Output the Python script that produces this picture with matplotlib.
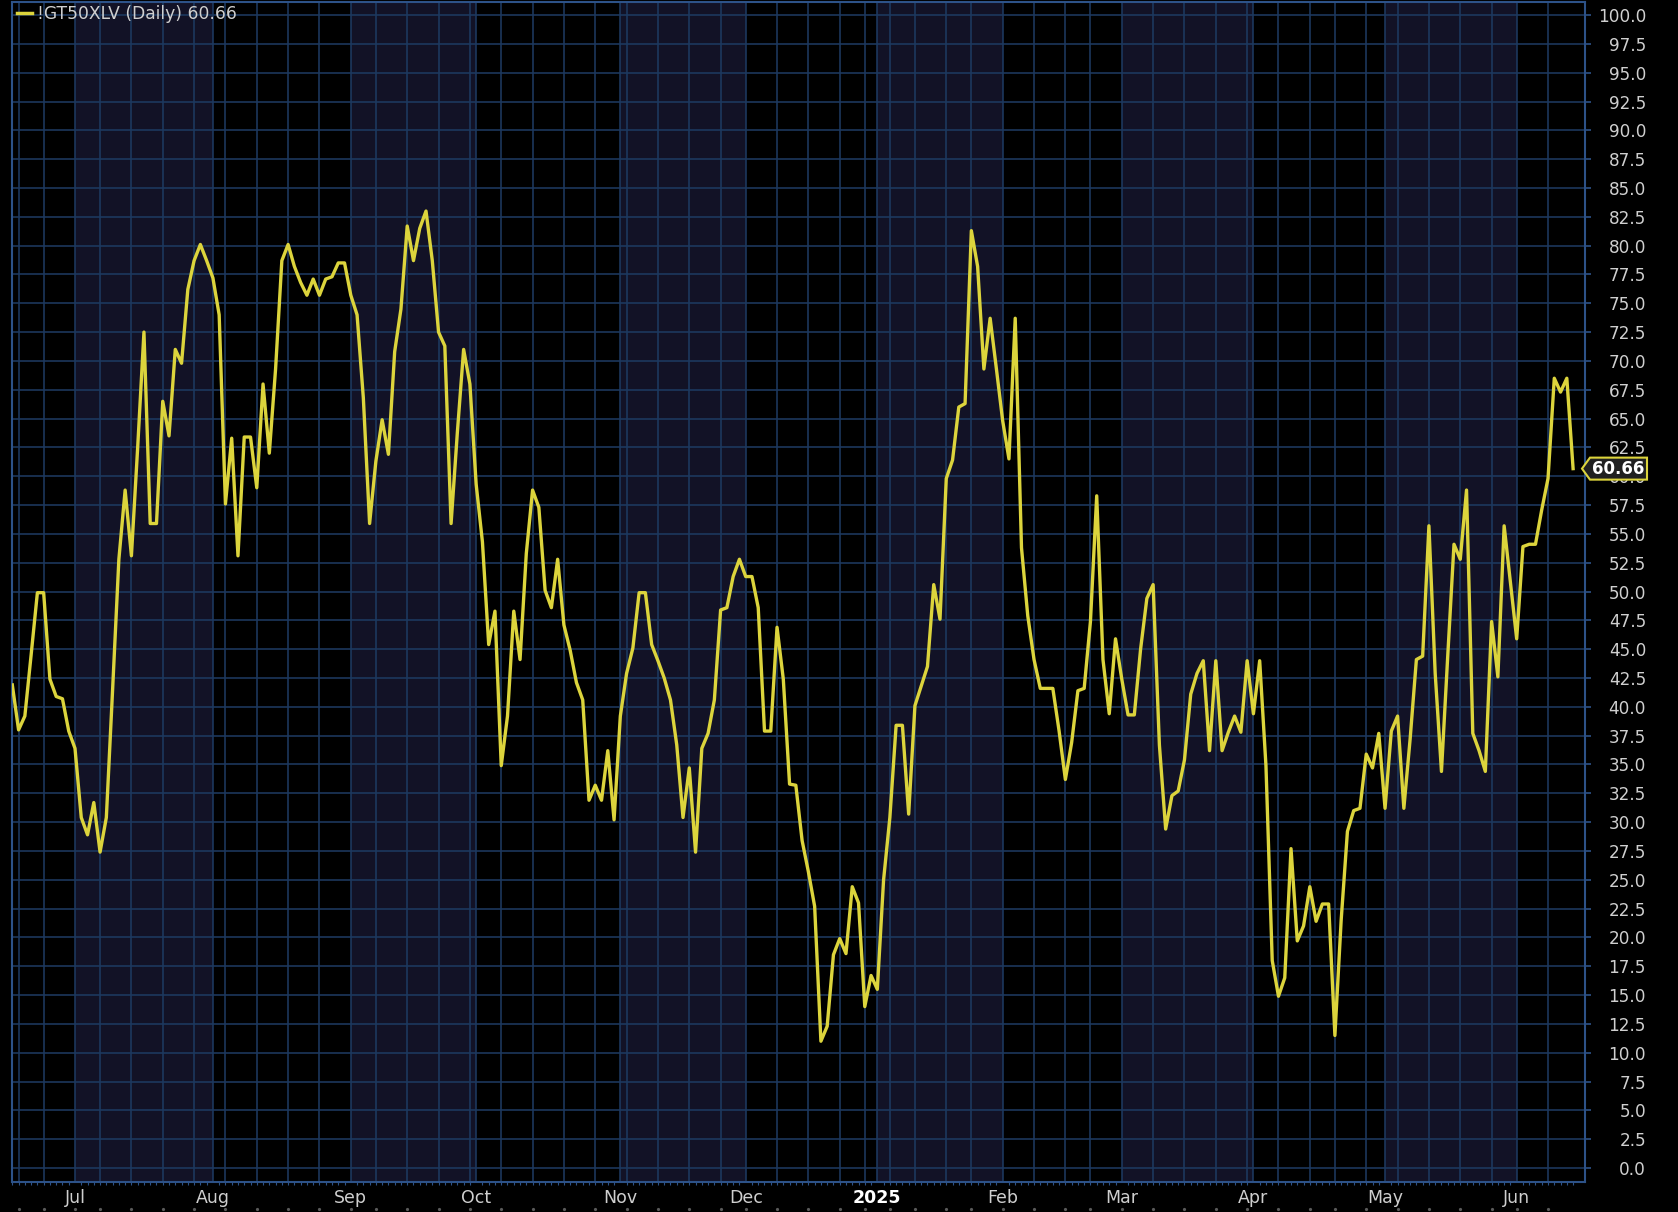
import numpy as np
import pandas as pd
import matplotlib
matplotlib.use("Agg")
import matplotlib.pyplot as plt
from matplotlib.transforms import blended_transform_factory
from matplotlib.patches import Polygon
from matplotlib.lines import Line2D

# ---------------- data (daily values, one list per month) ----------------
jun24 = [41.9, 38.0, 39.2, 44.5, 49.9, 49.9, 42.4, 40.9, 40.7, 37.9]
jul24 = [36.4, 30.4, 28.9, 31.7, 27.4, 30.4, 41.5, 52.8, 58.8, 53.1, 62.5,
         72.5, 55.9, 55.9, 66.5, 63.5, 71.0, 69.8, 76.2, 78.7, 80.1, 78.7]
aug24 = [77.2, 74.0, 57.6, 63.3, 53.1, 63.4, 63.4, 59.0, 68.0, 62.0, 69.3,
         78.7, 80.1, 78.2, 76.8, 75.7, 77.1, 75.7, 77.1, 77.3, 78.5, 78.5]
sep24 = [75.7, 74.0, 66.8, 55.9, 61.3, 64.9, 61.9, 70.8, 74.5, 81.7, 78.7,
         81.5, 83.0, 78.7, 72.5, 71.3, 55.9, 63.8, 71.0, 68.0]
oct24 = [59.3, 54.3, 45.4, 48.3, 34.9, 39.2, 48.3, 44.1, 53.3, 58.8, 57.3,
         50.1, 48.6, 52.8, 47.1, 44.9, 42.1, 40.6, 31.9, 33.2, 31.9, 36.2, 30.2]
nov24 = [39.2, 42.9, 45.1, 49.9, 49.9, 45.4, 44.0, 42.5, 40.6, 36.7, 30.4,
         34.7, 27.4, 36.4, 37.7, 40.6, 48.4, 48.6, 51.3, 52.8]
dec24 = [51.3, 51.3, 48.6, 37.9, 37.9, 46.9, 42.4, 33.3, 33.2, 28.4, 25.7,
         22.7, 11.0, 12.3, 18.5, 19.9, 18.6, 24.4, 23.0, 14.0, 16.7]
jan25 = [15.5, 25.0, 30.4, 38.4, 38.4, 30.7, 40.1, 41.8, 43.5, 50.6, 47.6,
         59.8, 61.4, 66.0, 66.3, 81.3, 78.2, 69.3, 73.7, 69.3]
feb25 = [64.8, 61.5, 73.7, 53.8, 47.9, 44.1, 41.6, 41.6, 41.6, 37.9, 33.7,
         36.9, 41.4, 41.6, 47.4, 58.3, 44.1, 39.4, 45.9]
mar25 = [42.4, 39.3, 39.3, 45.0, 49.4, 50.6, 36.7, 29.4, 32.3, 32.7, 35.4,
         41.1, 42.9, 44.0, 36.2, 44.0, 36.2, 37.8, 39.2, 37.8, 44.0]
apr25 = [39.4, 44.0, 34.9, 18.0, 14.9, 16.5, 27.7, 19.7, 21.0, 24.4, 21.4,
         22.9, 22.9, 11.5, 21.5, 29.2, 31.0, 31.2, 35.9, 34.7, 37.7]
may25 = [31.2, 37.9, 39.2, 31.2, 37.2, 44.1, 44.4, 55.7, 42.9, 34.4, 44.4,
         54.1, 52.8, 58.8, 37.7, 36.2, 34.4, 47.4, 42.6, 55.7, 50.8]
jun25 = [45.9, 53.9, 54.1, 54.1, 57.1, 59.8, 68.5, 67.3, 68.5, 60.66]

values = (jun24 + jul24 + aug24 + sep24 + oct24 + nov24 + dec24 + jan25 +
          feb25 + mar25 + apr25 + may25 + jun25)

holidays = ["2024-06-19", "2024-07-04", "2024-09-02", "2024-11-28",
            "2024-12-25", "2025-01-01", "2025-01-09", "2025-01-20",
            "2025-02-17", "2025-04-18", "2025-05-26"]
start_date, end_date = "2024-06-14", "2025-06-13"
series_label = "!GT50XLV (Daily) 60.66"
last_label = "60.66"
yticks = np.arange(0, 100.01, 2.5)

# ---------------- styling ----------------
LINE = "#dcd43c"
GRID = "#1d3960"
SHADE = "#121226"
SPINE = "#2d5288"
TXT = "#cfcfcf"

dates = pd.bdate_range(start_date, end_date, freq="C", holidays=holidays)
n = min(len(dates), len(values))
dates = dates[:n]
vals = np.array(values[:n])
x = np.arange(n)

fig = plt.figure(figsize=(16.78, 12.12), dpi=100, facecolor="black")
W, H = 1678, 1212
L, R, T, B = 12, 1585, 2, 1182
ax = fig.add_axes([L / W, 1 - B / H, (R - L) / W, (B - T) / H])
ax.set_facecolor("black")
ax.set_xlim(-0.05, 250.9)
ax.set_ylim(-1.21, 101.13)

month_starts = [i for i in range(1, n) if dates[i].month != dates[i - 1].month]
week_starts = [i for i in range(1, n)
               if dates[i].weekday() <= dates[i - 1].weekday()
               or (dates[i] - dates[i - 1]).days >= 7]

# alternating month shading
bounds = month_starts + [ax.get_xlim()[1]]
for k, ms in enumerate(month_starts):
    if dates[ms].month in (7, 9, 11, 1, 3, 5):
        ax.axvspan(ms, bounds[k + 1], color=SHADE, lw=0, zorder=0.5)

# grid
for yv in yticks:
    ax.axhline(yv, color=GRID, lw=1.15, zorder=1)
for ws in sorted(set(week_starts) | set(month_starts)):
    ax.axvline(ws, color=GRID, lw=1.15, zorder=1)

ax.plot(x, vals, color=LINE, lw=2.4, zorder=3, solid_joinstyle="round")

for s in ax.spines.values():
    s.set_color(SPINE)
    s.set_linewidth(1.5)

# y axis on the right
ax.yaxis.tick_right()
ax.set_yticks(yticks)
ax.set_yticklabels([f"{v:.1f}" for v in yticks])
ax.tick_params(axis="y", colors=SPINE, labelcolor=TXT, length=4, width=1.2,
               pad=40, labelsize=12.2)
for lab in ax.get_yticklabels():
    lab.set_ha("right")
    lab.set_family("DejaVu Sans")

# x axis months
ax.set_xticks(month_starts)
xlabels = ["2025" if dates[m].month == 1 else dates[m].strftime("%b") for m in month_starts]
ax.set_xticklabels(xlabels)
ax.tick_params(axis="x", length=0, pad=5, labelsize=12.5, labelcolor=TXT)
for lab in ax.get_xticklabels():
    if lab.get_text() == "2025":
        lab.set_fontweight("bold")
        lab.set_color("white")
ax.set_xticks(x, minor=True)
ax.tick_params(axis="x", which="minor", length=2.5, width=0.8, color=SPINE)

# small dots under month labels
tr = blended_transform_factory(ax.transData, ax.transAxes)
ax.plot(week_starts, [-0.0229] * len(week_starts), transform=tr, ls="none",
        marker="o", ms=1.3, color="#5a5a5a", clip_on=False)

# legend
fig.text(37 / W, 1 - 14 / H, series_label, color=TXT, fontsize=12.3,
         va="center", ha="left", family="DejaVu Sans")
fig.add_artist(Line2D([17 / W, 32 / W], [1 - 13 / H] * 2, color=LINE, lw=2.5))

# last value tag
lv = vals[-1]
tb = blended_transform_factory(ax.transAxes, ax.transData)
axw = R - L
tip = (1582 - L) / axw
bl = (1590 - L) / axw
br = (1647 - L) / axw
hh = 11 / ((B - T) / (101.13 + 1.21))
poly = Polygon([(tip, lv), (bl, lv + hh), (br, lv + hh), (br, lv - hh), (bl, lv - hh)],
               closed=True, transform=tb, facecolor="#202020", edgecolor=LINE,
               lw=1.5, clip_on=False, zorder=10)
ax.add_patch(poly)
ax.text((bl + br) / 2, lv, last_label, transform=tb, color="white",
        fontsize=12, fontweight="bold", ha="center", va="center",
        zorder=11, clip_on=False)

fig.savefig("out.png", dpi=100, facecolor="black")
